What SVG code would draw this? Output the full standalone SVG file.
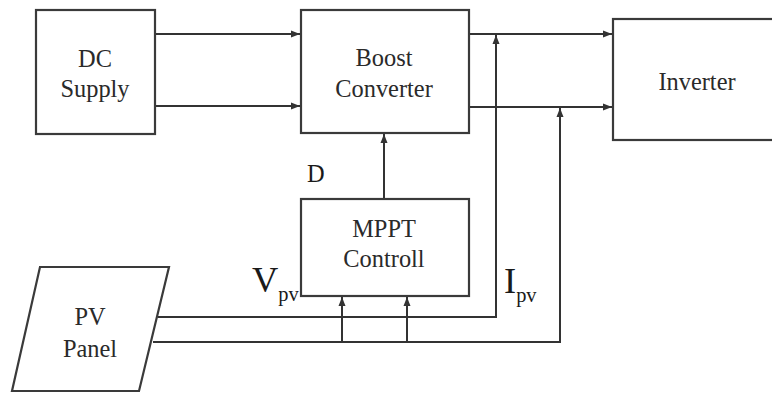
<svg xmlns="http://www.w3.org/2000/svg" width="772" height="394" viewBox="0 0 772 394">
<style>
.box{fill:#fff;stroke:#3a3a3a;stroke-width:2.2}
.ln{fill:none;stroke:#333;stroke-width:2}
.t{font-family:'Liberation Serif','Times New Roman',serif;font-size:24.4px;fill:#2a2a2a;text-anchor:middle}
.lab{font-family:'Liberation Serif','Times New Roman',serif;fill:#1a1a1a}
</style>
<defs>
<marker id="ah" markerWidth="10" markerHeight="8" refX="9" refY="4" orient="auto" markerUnits="userSpaceOnUse">
<path d="M0,0.5 L9,4 L0,7.5 Z" fill="#333"/>
</marker>
</defs>
<rect width="772" height="394" fill="#fff"/>
<g id="connectors">
<line class="ln" x1="155" y1="34" x2="300" y2="34" marker-end="url(#ah)"/>
<line class="ln" x1="155" y1="106" x2="300" y2="106" marker-end="url(#ah)"/>
<line class="ln" x1="469" y1="34" x2="612" y2="34" marker-end="url(#ah)"/>
<line class="ln" x1="469" y1="107" x2="612" y2="107" marker-end="url(#ah)"/>
<line class="ln" x1="384" y1="199" x2="384" y2="134" marker-end="url(#ah)"/>
<polyline class="ln" points="158,317 496,317 496,35" marker-end="url(#ah)"/>
<polyline class="ln" points="153,342 560,342 560,108" marker-end="url(#ah)"/>
<line class="ln" x1="342" y1="342" x2="342" y2="297" marker-end="url(#ah)"/>
<line class="ln" x1="407" y1="342" x2="407" y2="297" marker-end="url(#ah)"/>
</g>
<g id="dc-supply">
<rect class="box" x="36" y="10" width="119" height="124"/>
<text class="t" x="95" y="67">DC</text>
<text class="t" x="95" y="97">Supply</text>
</g>
<g id="boost-converter">
<rect class="box" x="301" y="10" width="168" height="123"/>
<text class="t" x="384" y="66">Boost</text>
<text class="t" x="384" y="97">Converter</text>
</g>
<g id="inverter">
<rect class="box" x="613" y="19" width="170" height="121"/>
<text class="t" x="697" y="90">Inverter</text>
</g>
<g id="mppt-controll">
<rect class="box" x="301" y="199" width="168" height="97"/>
<text class="t" x="384" y="237">MPPT</text>
<text class="t" x="384" y="267">Controll</text>
</g>
<g id="pv-panel">
<polygon class="box" points="40,267 169,267 139,391 12,391"/>
<text class="t" x="90" y="325">PV</text>
<text class="t" x="90" y="357">Panel</text>
</g>
<g id="labels">
<text class="lab" x="307" y="182" font-size="24.4">D</text>
<text class="lab" x="252" y="292" font-size="36.4">V<tspan font-size="20.4" dy="9">pv</tspan></text>
<text class="lab" x="504" y="293" font-size="36.4">I<tspan font-size="20.4" dy="9">pv</tspan></text>
</g>
</svg>
